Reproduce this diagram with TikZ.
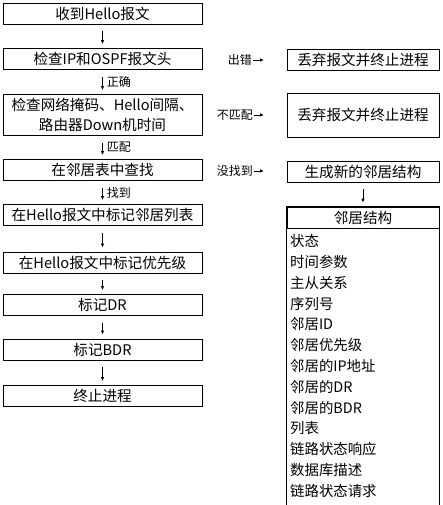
\documentclass[tikz,border=0pt]{standalone}
\usepackage{fontspec}
\setmainfont{Noto Sans CJK SC}
\usepackage{tikz}
\usetikzlibrary{arrows.meta}
\usetikzlibrary{positioning}

\tikzset{
  box/.style={draw, line width=0.8pt, minimum width=199pt, minimum height=21pt, inner sep=0pt, font=\fontsize{14.6}{20.5}\selectfont},
  rbox/.style={box, minimum width=152pt},
  cond/.style={font=\fontsize{12}{13}\selectfont, inner sep=1pt},
  field/.style={anchor=west, inner sep=0pt, font=\fontsize{14.4}{16}\selectfont},
  arr/.style={line width=0.8pt, -{Latex[length=4pt,width=3.5pt]}},
  down/.style={arr, shorten <=7pt, shorten >=4pt}
}

\begin{document}
\begin{tikzpicture}[x=1pt, y=-1pt]
\useasboundingbox (0,0) rectangle (443,505);

% main flow
\node[box] (recv) at (102.5,13.5) {收到Hello报文};
\node[box] (chk) at (102.5,59) {检查IP和OSPF报文头};
\node[box, minimum height=41pt, align=center] (mask) at (102.5,115) {检查网络掩码、Hello间隔、\\路由器Down机时间};
\node[box] (find) at (102.5,170) {在邻居表中查找};
\node[box] (mark) at (102.5,215) {在Hello报文中标记邻居列表};
\node[box] (prio) at (102.5,262.5) {在Hello报文中标记优先级};
\node[box] (dr) at (102.5,305) {标记DR};
\node[box] (bdr) at (102.5,349.5) {标记BDR};
\node[box] (stop) at (102.5,396) {终止进程};

\draw[down] (recv) -- (chk);
\draw[down] (chk) -- (mask) node[cond, midway, right=3pt] {正确};
\draw[down] (mask) -- (find) node[cond, midway, right=3pt] {匹配};
\draw[down] (find) -- (mark) node[cond, midway, right=3pt] {找到};
\draw[down] (mark) -- (prio);
\draw[down] (prio) -- (dr);
\draw[down] (dr) -- (bdr);
\draw[down] (bdr) -- (stop);

% failure branches
\node[rbox] (drop1) at (363,60) {丢弃报文并终止进程};
\node[rbox, minimum height=44pt] (drop2) at (363,115) {丢弃报文并终止进程};
\node[rbox] (newnb) at (363,171.5) {生成新的邻居结构};

\node[cond, anchor=east] (err) at (253,60) {出错};
\node[cond, anchor=east] (nomatch) at (254,115) {不匹配};
\node[cond, anchor=east] (notfound) at (254,171) {没找到};
\coordinate (errend) at (264,60);
\coordinate (nomatchend) at (264,115);
\coordinate (notfoundend) at (264,171);
\draw[arr] (err.east) -- (errend);
\draw[arr] (nomatch.east) -- (nomatchend);
\draw[arr] (notfound.east) -- (notfoundend);

% neighbour structure
\node[rbox] (nbhead) at (363,217.5) {邻居结构};
\draw[down] (newnb) -- (nbhead);
\coordinate (nbend) at (439,510);
\draw[line width=0.8pt] (nbhead.north west) rectangle (nbend);
\foreach \f [count=\i] in {状态,时间参数,主从关系,序列号,邻居ID,邻居优先级,邻居的IP地址,邻居的DR,邻居的BDR,列表,链路状态响应,数据库描述,链路状态请求}
  \node[field] (f\i) at (290,220.5+20.8*\i) {\f};

\end{tikzpicture}
\end{document}
